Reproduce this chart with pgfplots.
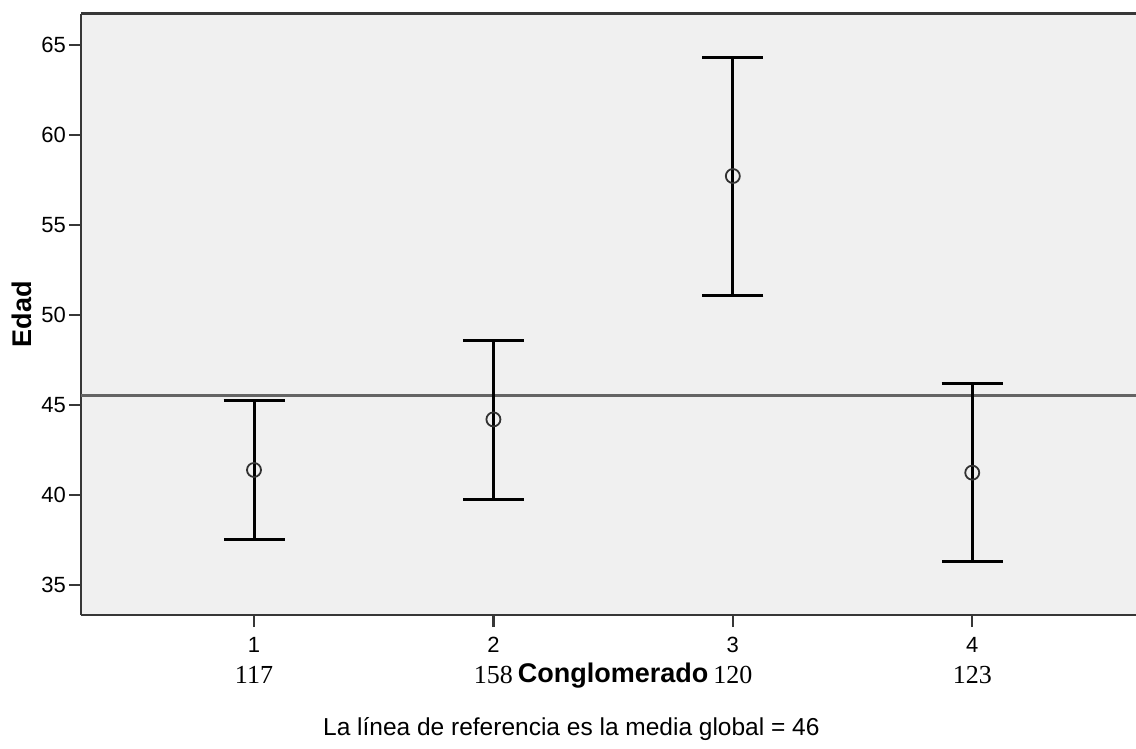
\documentclass[border=0pt]{standalone}
\usepackage{pgfplots}
\pgfplotsset{compat=1.18}
\usepackage{pgfplotstable}
\usepackage{fontspec}
\setmainfont{Liberation Sans}
\newfontfamily\tnr{Liberation Serif}
\usetikzlibrary{calc}
\definecolor{bgc}{RGB}{240,240,240}
\definecolor{axc}{RGB}{55,55,55}
\definecolor{refc}{RGB}{100,100,100}
\definecolor{mkc}{RGB}{50,50,50}

\pgfplotstableread{
x mean ep em
1 41.39 3.85 3.85
2 44.20 4.37 4.44
3 57.72 6.59 6.62
4 41.24 4.98 4.94
}\datatable

\begin{document}
\begin{tikzpicture}
\begin{axis}[
  scale only axis, width=1055bp, height=601bp,
  xmin=0.2774, xmax=4.684, ymin=33.333, ymax=66.722,
  axis x line*=bottom, axis y line*=left,
  axis line style={axc, line width=2.5bp, -},
  axis background/.style={fill=bgc},
  clip=false,
  xtick={1,2,3,4}, xticklabels={1,2,3,4},
  extra x ticks={1,2,3,4}, extra x tick labels={117,158,120,123},
  extra x tick style={major tick length=0pt,
     xticklabel style={font=\tnr\fontsize{26bp}{30bp}\selectfont, anchor=base, yshift=-43bp}},
  xticklabel style={font=\fontsize{22bp}{25bp}\selectfont, anchor=base, inner sep=0pt, yshift=-25bp},
  ytick={35,40,45,50,55,60,65},
  yticklabel style={font=\fontsize{22bp}{25bp}\selectfont, anchor=east, inner sep=0pt, xshift=-3bp},
  /pgf/number format/assume math mode=true,
  tick align=outside, major tick length=12bp,
  tick style={axc, line width=2.5bp},
]
\coordinate (sw) at (rel axis cs:0,0);
\coordinate (ne) at (rel axis cs:1,1);
\draw[axc, line width=3bp] (rel axis cs:0,1) -- (rel axis cs:1,1);
\addplot[refc, line width=2.5bp] coordinates {(0.2774,45.54) (4.684,45.54)};
\addplot[only marks, mark=o, mark size=7bp,
  mark options={draw=mkc, line width=1.8bp, solid, fill=none},
  error bars/.cd, y dir=both, y explicit,
  error bar style={black, line width=3bp},
  error mark options={rotate=90, black, line width=3bp, mark size=30.5bp}]
  table[x=x, y=mean, y error plus=ep, y error minus=em] {\datatable};
\node[font=\bfseries\fontsize{27bp}{30bp}\selectfont, anchor=base, yshift=-67bp] at (rel axis cs:0.5043,0) {Conglomerado};
\node[font=\bfseries\fontsize{27bp}{30bp}\selectfont, xshift=-59bp, rotate=90, anchor=center] at (rel axis cs:0,0.5) {Edad};
\node[font=\fontsize{24.5bp}{28bp}\selectfont, anchor=base, yshift=-120bp] at (rel axis cs:0.4648,0) {La línea de referencia es la media global = 46};
\end{axis}
\pgfresetboundingbox
\path[use as bounding box] ($(sw)+(-81bp,-134bp)$) rectangle ($(ne)+(0,14bp)$);
\end{tikzpicture}
\end{document}
